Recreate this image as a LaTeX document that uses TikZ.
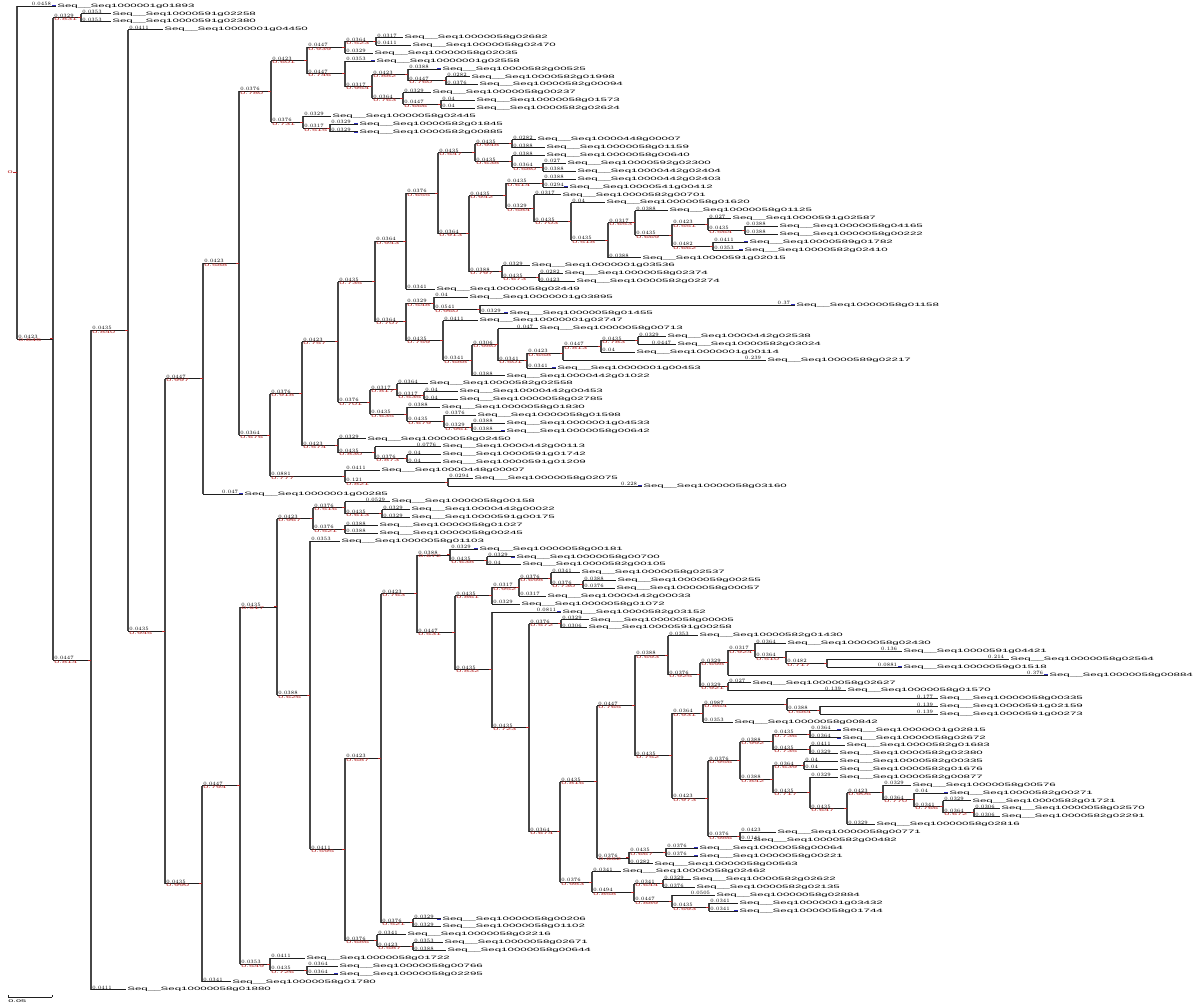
\documentclass[tikz,border=0pt]{standalone}
\usepackage{fontspec}
\newfontfamily\sqf[FakeStretch=2.4]{Liberation Sans}
\usetikzlibrary{calc}
\definecolor{supred}{RGB}{185,35,35}
\definecolor{tipblue}{RGB}{45,45,190}
\newcommand\sq[1]{Seq\_\_Seq1000#1}
\tikzset{
 vline/.style={draw=black!72, line width=1.4pt},
 hline/.style={draw=black!88, line width=0.85pt},
 tipmark/.style={draw=tipblue, line width=1.2pt},
 rtick/.style={draw=supred, line width=0.9pt},
 seqlab/.style={anchor=west, inner sep=0pt, font=\sqf\fontsize{4.8}{5}\selectfont},
 blab/.style={anchor=south west, inner sep=0.2pt, font=\sqf\fontsize{3.8}{4}\selectfont},
 rlab/.style={anchor=north west, inner sep=0.2pt, text=supred, font=\sqf\fontsize{3.8}{4}\selectfont},
}
% leaf: name, row, x of tip, label id
\NewDocumentCommand\Lf{m m m m}{%
  \coordinate (#1) at (#3,{6+7.87*#2});
  \draw[tipmark] ([xshift=-4pt]#1) -- (#1);
  \node[seqlab] (#1t) at ([xshift=1.2pt]#1) {\sq{#4}};
  \expandafter\xdef\csname X@#1\endcsname{#3}%
}
% branch from parent #1 (x = #2) to child #3, with its length label
\newcommand\Br[3]{%
  \draw[hline] (#1 |- #3) -- (#3);
  \pgfmathsetmacro\blen{\csname X@#3\endcsname-#2}%
  \pgfmathsetmacro\bval{\blen/851}%
  \ifdim\bval pt<0.01pt \def\bprec{5}\else\ifdim\bval pt<0.1pt \def\bprec{4}\else\def\bprec{3}\fi\fi
  \ifcsname RL@#3\endcsname
    \node[blab,xshift=1pt] (#3bl) at (#1 |- #3) {\pgfmathprintnumber[fixed,precision=\bprec]{\bval}};
    \node[rlab,xshift=1pt] (#3rl) at (#1 |- #3) {\csname RL@#3\endcsname};
    \draw[rtick] (#3) -- ++(-3,0);
  \else
    \ifdim\blen pt>36pt
      \node[blab,anchor=south east,xshift=-4.5pt] (#3bl) at (#3) {\pgfmathprintnumber[fixed,precision=\bprec]{\bval}};
    \else
      \node[blab,xshift=1pt] (#3bl) at (#1 |- #3) {\pgfmathprintnumber[fixed,precision=\bprec]{\bval}};
    \fi
  \fi
}
% inner node: name, x, first child, last child
\NewDocumentCommand\Nd{m m m m}{%
  \coordinate (tmp) at ($(#3)!0.5!(#4)$);
  \coordinate (#1) at (#2,0 |- tmp);
  \draw[vline] (#1 |- #3) -- (#1 |- #4);
  \Br{#1}{#2}{#3}\Br{#1}{#2}{#4}%
  \pgfmathrandominteger{\rr}{500}{999}\xdef\tmprl{0.\rr}%
  \expandafter\xdef\csname RL@#1\endcsname{\tmprl}%
  \expandafter\xdef\csname X@#1\endcsname{#2}%
}
\begin{document}
\begin{tikzpicture}[x=1pt,y=-1pt]
\pgfmathsetseed{11}
\fill[white] (0,0) rectangle (1200,1008);
\useasboundingbox (0,0) rectangle (1200,1008);
% ---------- leaves ----------
\Lf{L0}{0}{56}{001g01893}
\Lf{L1}{1}{111}{0591g02258}
\Lf{L2}{2}{111}{0591g02380}
\Lf{L3}{3}{163}{0001g04450}
\Lf{L4}{4}{403}{0058g02682}
\Lf{L5}{5}{411}{0058g02470}
\Lf{L6}{6}{373}{0058g02035}
\Lf{L7}{7}{375}{0001g02558}
\Lf{L8}{8}{441}{0582g00525}
\Lf{L9}{9}{470}{0582g01998}
\Lf{L10}{10}{478}{0582g00094}
\Lf{L11}{11}{431}{0058g00237}
\Lf{L12}{12}{475}{0058g01573}
\Lf{L13}{13}{475}{0582g02624}
\Lf{L14}{14}{331}{0058g02445}
\Lf{L15}{15}{358}{0582g01845}
\Lf{L16}{16}{358}{0582g00885}
\Lf{L17}{17}{536}{0448g00007}
\Lf{L18}{18}{545}{0058g01159}
\Lf{L19}{19}{545}{0058g00640}
\Lf{L20}{20}{566}{0592g02300}
\Lf{L21}{21}{576}{0442g02404}
\Lf{L22}{22}{576}{0442g02403}
\Lf{L23}{23}{568}{0541g00412}
\Lf{L24}{24}{561}{0582g00701}
\Lf{L25}{25}{605}{0058g01620}
\Lf{L26}{26}{668}{0058g01125}
\Lf{L27}{27}{731}{0591g02587}
\Lf{L28}{28}{778}{0058g04165}
\Lf{L29}{29}{778}{0058g00222}
\Lf{L30}{30}{748}{0589g01782}
\Lf{L31}{31}{743}{0582g02410}
\Lf{L32}{32}{641}{0591g02015}
\Lf{L33}{33}{530}{0001g03536}
\Lf{L34}{34}{563}{0058g02374}
\Lf{L35}{35}{575}{0582g02274}
\Lf{L36}{36}{435}{0058g02449}
\Lf{L37}{37}{468}{0001g03895}
\Lf{L38}{38}{795}{0058g01158}
\Lf{L39}{39}{508}{0058g01455}
\Lf{L40}{40}{478}{0001g02747}
\Lf{L41}{41}{538}{0058g00713}
\Lf{L42}{42}{666}{0442g02538}
\Lf{L43}{43}{676}{0582g03024}
\Lf{L44}{44}{635}{0001g00114}
\Lf{L45}{45}{766}{0589g02217}
\Lf{L46}{46}{556}{0001g00453}
\Lf{L47}{47}{505}{0442g01022}
\Lf{L48}{48}{428}{0582g02558}
\Lf{L49}{49}{458}{0442g00453}
\Lf{L50}{50}{458}{0058g02785}
\Lf{L51}{51}{440}{0058g01830}
\Lf{L52}{52}{476}{0058g01598}
\Lf{L53}{53}{505}{0001g04533}
\Lf{L54}{54}{505}{0058g00642}
\Lf{L55}{55}{366}{0058g02450}
\Lf{L56}{56}{441}{0442g00113}
\Lf{L57}{57}{441}{0591g01742}
\Lf{L58}{58}{441}{0591g01209}
\Lf{L59}{59}{380}{0448g00007}
\Lf{L60}{60}{473}{0058g02075}
\Lf{L61}{61}{642}{0058g03160}
\Lf{L62}{62}{243}{0001g00285}
\Lf{L63}{63}{390}{0058g00158}
\Lf{L64}{64}{410}{0442g00022}
\Lf{L65}{65}{410}{0591g00175}
\Lf{L66}{66}{378}{0058g01027}
\Lf{L67}{67}{378}{0058g00245}
\Lf{L68}{68}{340}{0058g01103}
\Lf{L69}{69}{478}{0058g00181}
\Lf{L70}{70}{515}{0058g00700}
\Lf{L71}{71}{521}{0582g00105}
\Lf{L72}{72}{580}{0058g02537}
\Lf{L73}{73}{616}{0059g00255}
\Lf{L74}{74}{615}{0058g00057}
\Lf{L75}{75}{546}{0442g00033}
\Lf{L76}{76}{520}{0058g01072}
\Lf{L77}{77}{561}{0582g03152}
\Lf{L78}{78}{589}{0058g00005}
\Lf{L79}{79}{587}{0591g00258}
\Lf{L80}{80}{698}{0582g01430}
\Lf{L81}{81}{786}{0058g02430}
\Lf{L82}{82}{902}{0591g04421}
\Lf{L83}{83}{1009}{0058g02564}
\Lf{L84}{84}{902}{0059g01518}
\Lf{L85}{85}{1048}{0058g00884}
\Lf{L86}{86}{751}{0058g02627}
\Lf{L87}{87}{846}{0058g01570}
\Lf{L88}{88}{938}{0058g00335}
\Lf{L89}{89}{938}{0591g02159}
\Lf{L90}{90}{938}{0591g00273}
\Lf{L91}{91}{733}{0058g00842}
\Lf{L92}{92}{841}{0001g02815}
\Lf{L93}{93}{841}{0058g02672}
\Lf{L94}{94}{845}{0582g01683}
\Lf{L95}{95}{838}{0582g02380}
\Lf{L96}{96}{838}{0582g00335}
\Lf{L97}{97}{838}{0582g01676}
\Lf{L98}{98}{838}{0582g00877}
\Lf{L99}{99}{911}{0058g00576}
\Lf{L100}{100}{948}{0582g00271}
\Lf{L101}{101}{971}{0582g01721}
\Lf{L102}{102}{1000}{0058g02570}
\Lf{L103}{103}{1000}{0582g02291}
\Lf{L104}{104}{875}{0058g02816}
\Lf{L105}{105}{776}{0058g00771}
\Lf{L106}{106}{752}{0582g00482}
\Lf{L107}{107}{698}{0058g00064}
\Lf{L108}{108}{698}{0058g00221}
\Lf{L109}{109}{653}{0058g00563}
\Lf{L110}{110}{621}{0058g02462}
\Lf{L111}{111}{691}{0582g02622}
\Lf{L112}{112}{695}{0582g02135}
\Lf{L113}{113}{715}{0058g02884}
\Lf{L114}{114}{738}{0001g03432}
\Lf{L115}{115}{738}{0058g01744}
\Lf{L116}{116}{441}{0058g00206}
\Lf{L117}{117}{441}{0058g01102}
\Lf{L118}{118}{406}{0058g02216}
\Lf{L119}{119}{443}{0058g02671}
\Lf{L120}{120}{446}{0058g00644}
\Lf{L121}{121}{305}{0058g01722}
\Lf{L122}{122}{338}{0058g00766}
\Lf{L123}{123}{338}{0058g02295}
\Lf{L124}{124}{231}{0058g01780}
\Lf{L125}{125}{126}{0058g01880}
% ---------- internal nodes, upper half ----------
\Nd{n81}{81}{L1}{L2}
\Nd{n376}{376}{L4}{L5}
\Nd{n345a}{345}{n376}{L6}
\Nd{n446}{446}{L9}{L10}
\Nd{n408}{408}{L8}{n446}
\Nd{n441}{441}{L12}{L13}
\Nd{n403}{403}{L11}{n441}
\Nd{n372}{372}{n408}{n403}
\Nd{n345b}{345}{L7}{n372}
\Nd{n307}{307}{n345a}{n345b}
\Nd{n330}{330}{L15}{L16}
\Nd{n303}{303}{L14}{n330}
\Nd{n271}{271}{n307}{n303}
\Nd{n512a}{512}{L17}{L18}
\Nd{n543a}{543}{L20}{L21}
\Nd{n512b}{512}{L19}{n543a}
\Nd{n475}{475}{n512a}{n512b}
\Nd{n543b}{543}{L22}{L23}
\Nd{n745t}{745}{L28}{L29}
\Nd{n708t}{708}{L27}{n745t}
\Nd{n713t}{713}{L30}{L31}
\Nd{n672t}{672}{n708t}{n713t}
\Nd{n635t}{635}{L26}{n672t}
\Nd{n608t}{608}{n635t}{L32}
\Nd{n571}{571}{L25}{n608t}
\Nd{n534}{534}{L24}{n571}
\Nd{n506}{506}{n543b}{n534}
\Nd{n539}{539}{L34}{L35}
\Nd{n502}{502}{L33}{n539}
\Nd{n469}{469}{n506}{n502}
\Nd{n438}{438}{n475}{n469}
\Nd{n406a}{406}{n438}{L36}
\Nd{n480}{480}{L38}{L39}
\Nd{n434}{434}{L37}{n480}
\Nd{n638}{638}{L42}{L43}
\Nd{n601}{601}{n638}{L44}
\Nd{n563}{563}{n601}{L45}
\Nd{n527}{527}{n563}{L46}
\Nd{n498}{498}{L41}{n527}
\Nd{n472}{472}{n498}{L47}
\Nd{n443}{443}{L40}{n472}
\Nd{n406b}{406}{n434}{n443}
\Nd{n375}{375}{n406a}{n406b}
\Nd{n424}{424}{L49}{L50}
\Nd{n397}{397}{L48}{n424}
\Nd{n472c}{472}{L53}{L54}
\Nd{n444}{444}{L52}{n472c}
\Nd{n407}{407}{L51}{n444}
\Nd{n370}{370}{n397}{n407}
\Nd{n338a}{338}{n375}{n370}
\Nd{n407b}{407}{L57}{L58}
\Nd{n375b}{375}{L56}{n407b}
\Nd{n338b}{338}{L55}{n375b}
\Nd{n302}{302}{n338a}{n338b}
\Nd{n448}{448}{L60}{L61}
\Nd{n345e}{345}{L59}{n448}
\Nd{n270}{270}{n302}{n345e}
\Nd{n239}{239}{n271}{n270}
\Nd{n203}{203}{n239}{L62}
% ---------- internal nodes, lower half ----------
\Nd{n382}{382}{L64}{L65}
\Nd{n345c}{345}{L63}{n382}
\Nd{n345d}{345}{L66}{L67}
\Nd{n313}{313}{n345c}{n345d}
\Nd{n487}{487}{L70}{L71}
\Nd{n450}{450}{L69}{n487}
\Nd{n583}{583}{L73}{L74}
\Nd{n551}{551}{L72}{n583}
\Nd{n519}{519}{n551}{L75}
\Nd{n492}{492}{n519}{L76}
\Nd{n561}{561}{L78}{L79}
\Nd{n827}{827}{L83}{L84}
\Nd{n786}{786}{L82}{n827}
\Nd{n755}{755}{L81}{n786}
\Nd{n728}{728}{n755}{L85}
\Nd{n728b}{728}{L86}{L87}
\Nd{n700}{700}{n728}{n728b}
\Nd{n668}{668}{L80}{n700}
\Nd{n820}{820}{L89}{L90}
\Nd{n787}{787}{L88}{n820}
\Nd{n703}{703}{n787}{L91}
\Nd{n810a}{810}{L92}{L93}
\Nd{n810b}{810}{L94}{L95}
\Nd{n773a}{773}{n810a}{n810b}
\Nd{n804}{804}{L96}{L97}
\Nd{n974}{974}{L102}{L103}
\Nd{n943}{943}{L101}{n974}
\Nd{n914}{914}{L100}{n943}
\Nd{n883}{883}{L99}{n914}
\Nd{n847}{847}{n883}{L104}
\Nd{n810c}{810}{L98}{n847}
\Nd{n773b}{773}{n804}{n810c}
\Nd{n740}{740}{n773a}{n773b}
\Nd{n740b}{740}{L105}{L106}
\Nd{n708b}{708}{n740}{n740b}
\Nd{n672}{672}{n703}{n708b}
\Nd{n635}{635}{n668}{n672}
\Nd{n666}{666}{L107}{L108}
\Nd{n629}{629}{n666}{L109}
\Nd{n597}{597}{n635}{n629}
\Nd{n663}{663}{L111}{L112}
\Nd{n709}{709}{L114}{L115}
\Nd{n672b}{672}{L113}{n709}
\Nd{n634}{634}{n663}{n672b}
\Nd{n592}{592}{L110}{n634}
\Nd{n560}{560}{n597}{n592}
\Nd{n529}{529}{n561}{n560}
\Nd{n492b}{492}{L77}{n529}
\Nd{n455}{455}{n492}{n492b}
\Nd{n417}{417}{n450}{n455}
\Nd{n413b}{413}{L116}{L117}
\Nd{n381}{381}{n417}{n413b}
\Nd{n413}{413}{L119}{L120}
\Nd{n377}{377}{L118}{n413}
\Nd{n345}{345}{n381}{n377}
\Nd{n310}{310}{L68}{n345}
\Nd{n277}{277}{n313}{n310}
\Nd{n307b}{307}{L122}{L123}
\Nd{n270b}{270}{L121}{n307b}
\Nd{n240}{240}{n277}{n270b}
\Nd{n202}{202}{n240}{L124}
\Nd{n165}{165}{n203}{n202}
\Nd{n128}{128}{L3}{n165}
\Nd{n91}{91}{n128}{L125}
\Nd{n53}{53}{n81}{n91}
\Nd{root}{17}{L0}{n53}
\draw[rtick] (root) -- ++(-4,0);
\node[rlab,anchor=east] (rootlab) at ([xshift=-4pt]root) {0};
% ---------- scale bar ----------
\coordinate (sbA) at (8,997);
\coordinate (sbB) at (52,997);
\draw[hline,line width=0.6pt] (sbA) -- (sbB);
\draw[hline,line width=0.6pt] (sbA) -- ++(0,-2);
\draw[hline,line width=0.6pt] (sbB) -- ++(0,-2);
\node[blab,anchor=north west] (sbL) at (8,999) {0.05};
\end{tikzpicture}
\end{document}
